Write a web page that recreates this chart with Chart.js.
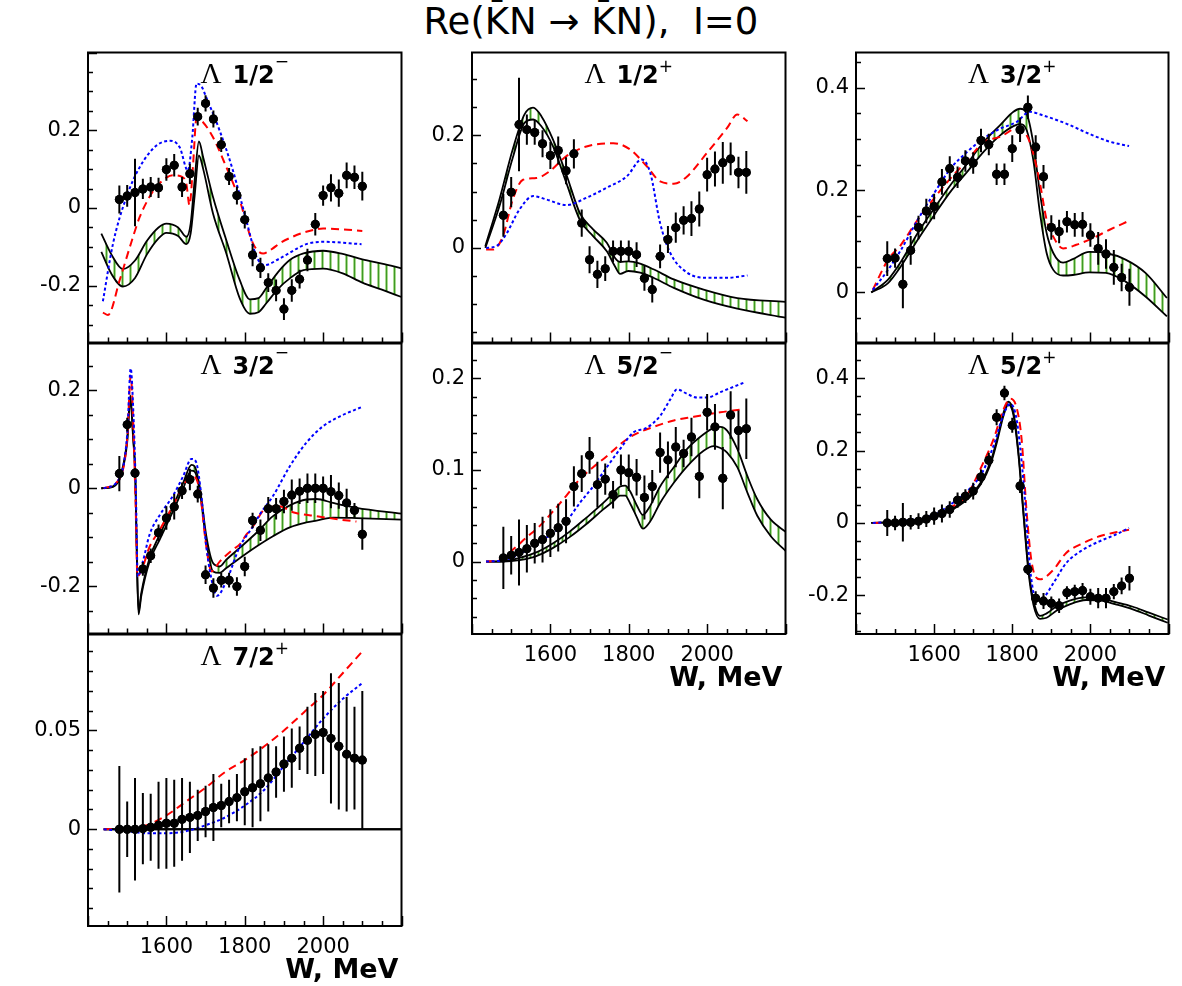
<!DOCTYPE html>
<html>
<head>
<meta charset="utf-8">
<script src="https://cdn.jsdelivr.net/npm/chart.js@4.4.0/dist/chart.umd.min.js"></script>
<style>
  body { margin: 0; background: #fff; width: 1182px; height: 986px; position: relative; overflow: hidden; }
  #title { position: absolute; left: 0; top: 2px; width: 1182px; text-align: center; font: 37px "DejaVu Sans"; line-height: 40px; white-space: pre; color: #000; }
  canvas { position: absolute; }
</style>
</head>
<body>
<div id="title">Re(K̄N → K̄N),  I=0</div>
<script>
// energies of the data points, MeV
const ptsW = [1480, 1500, 1520, 1540, 1560, 1580, 1600, 1620, 1640, 1660, 1680, 1700, 1720, 1740, 1760, 1780,
  1800, 1820, 1840, 1860, 1880, 1900, 1920, 1940, 1960, 1980, 2000, 2020, 2040, 2060, 2080, 2100];
const xTicks = [1600, 1800, 2000];

// Lambda 1/2-
const s01Val = [0.022, 0.031, 0.040, 0.049, 0.054, 0.052, 0.099, 0.110, 0.054, 0.088, 0.235, 0.269, 0.229, 0.163, 0.081, 0.032,
  -0.030, -0.121, -0.154, -0.192, -0.212, -0.260, -0.212, -0.183, -0.134, -0.042, 0.032, 0.052, 0.038, 0.084, 0.079, 0.056];
const s01Err = [0.036, 0.028, 0.087, 0.026, 0.026, 0.026, 0.029, 0.029, 0.026, 0.026, 0.023, 0.021, 0.022, 0.019, 0.022, 0.023,
  0.023, 0.029, 0.026, 0.024, 0.028, 0.028, 0.029, 0.024, 0.029, 0.029, 0.026, 0.035, 0.035, 0.033, 0.030, 0.037];
const s01BandW = [1434, 1460, 1489, 1520, 1550, 1580, 1600, 1630, 1651, 1662, 1672, 1683, 1694, 1719, 1753, 1787, 1813, 1835, 1855, 1885, 1915, 1950, 2000, 2050, 2100, 2150, 2200];
const s01Hi = [-0.066, -0.120, -0.157, -0.135, -0.085, -0.050, -0.040, -0.050, -0.074, -0.040, 0.070, 0.171, 0.130, 0.028, -0.083, -0.185, -0.235, -0.232, -0.206, -0.165, -0.134, -0.117, -0.110, -0.118, -0.132, -0.143, -0.155];
const s01Lo = [-0.113, -0.170, -0.202, -0.180, -0.120, -0.078, -0.064, -0.072, -0.093, -0.065, 0.030, 0.135, 0.100, -0.014, -0.117, -0.232, -0.272, -0.268, -0.245, -0.208, -0.181, -0.160, -0.156, -0.168, -0.192, -0.210, -0.229];
const s01RedW = [1438, 1451, 1481, 1510, 1532, 1555, 1574, 1600, 1617, 1640, 1651, 1659, 1668, 1677, 1694, 1719, 1753, 1787, 1821, 1847, 1870, 1889, 1920, 1957, 2000, 2050, 2100];
const s01Red = [-0.269, -0.275, -0.185, -0.090, -0.023, 0.025, 0.054, 0.078, 0.084, 0.080, 0.062, 0.007, 0.110, 0.232, 0.220, 0.182, 0.105, 0.020, -0.091, -0.117, -0.105, -0.091, -0.075, -0.061, -0.053, -0.055, -0.059];
const s01BlueW = [1438, 1464, 1498, 1532, 1574, 1609, 1634, 1655, 1666, 1677, 1689, 1702, 1736, 1770, 1804, 1830, 1851, 1889, 1957, 2000, 2098];
const s01Blue = [-0.240, -0.091, 0.028, 0.105, 0.160, 0.173, 0.156, 0.096, 0.180, 0.320, 0.314, 0.284, 0.199, 0.096, -0.032, -0.125, -0.147, -0.130, -0.093, -0.087, -0.093];
const s01YTicks = [-0.2, 0, 0.2];

// Lambda 1/2+
const p01Val = [0.058, 0.099, 0.219, 0.210, 0.205, 0.185, 0.164, 0.173, 0.137, 0.167, 0.044, -0.021, -0.047, -0.037, -0.006, -0.006,
  -0.006, -0.012, -0.054, -0.074, -0.015, 0.015, 0.036, 0.049, 0.052, 0.069, 0.130, 0.140, 0.151, 0.158, 0.134, 0.134];
const p01Err = [0.038, 0.027, 0.083, 0.027, 0.022, 0.024, 0.024, 0.025, 0.024, 0.026, 0.024, 0.024, 0.024, 0.022, 0.019, 0.019,
  0.019, 0.022, 0.022, 0.023, 0.021, 0.024, 0.027, 0.025, 0.031, 0.031, 0.030, 0.031, 0.037, 0.029, 0.028, 0.038];
const p01BandW = [1434, 1470, 1504, 1534, 1556, 1577, 1607, 1641, 1675, 1709, 1744, 1765, 1778, 1799, 1829, 1863, 1915, 1991, 2077, 2200];
const p01Hi = [0.003, 0.086, 0.175, 0.237, 0.249, 0.234, 0.192, 0.130, 0.062, 0.033, 0.009, -0.018, -0.025, -0.024, -0.028, -0.038, -0.056, -0.074, -0.089, -0.096];
const p01Lo = [0.000, 0.074, 0.160, 0.222, 0.228, 0.216, 0.180, 0.115, 0.050, 0.021, -0.006, -0.033, -0.046, -0.041, -0.044, -0.053, -0.071, -0.092, -0.108, -0.124];
const p01RedW = [1436, 1453, 1479, 1504, 1530, 1564, 1598, 1641, 1692, 1761, 1803, 1846, 1880, 1915, 1949, 2000, 2051, 2077, 2103];
const p01Red = [-0.003, -0.003, 0.021, 0.086, 0.121, 0.124, 0.136, 0.163, 0.180, 0.186, 0.175, 0.145, 0.118, 0.114, 0.127, 0.169, 0.213, 0.237, 0.225];
const p01BlueW = [1436, 1462, 1487, 1521, 1556, 1590, 1641, 1692, 1744, 1795, 1833, 1855, 1880, 1906, 1949, 2000, 2051, 2103];
const p01Blue = [0.000, 0.003, 0.024, 0.068, 0.092, 0.086, 0.076, 0.089, 0.107, 0.127, 0.157, 0.133, 0.044, -0.009, -0.044, -0.053, -0.053, -0.049];
const p01YTicks = [0, 0.2];

// Lambda 3/2+
const p03Val = [0.066, 0.067, 0.016, 0.082, 0.127, 0.159, 0.168, 0.216, 0.242, 0.225, 0.257, 0.253, 0.297, 0.289, 0.231, 0.231,
  0.281, 0.318, 0.362, 0.284, 0.226, 0.127, 0.119, 0.138, 0.132, 0.133, 0.112, 0.086, 0.075, 0.049, 0.029, 0.010];
const p03Err = [0.034, 0.019, 0.047, 0.028, 0.023, 0.024, 0.025, 0.025, 0.024, 0.021, 0.021, 0.021, 0.023, 0.021, 0.021, 0.021,
  0.026, 0.024, 0.023, 0.023, 0.023, 0.024, 0.023, 0.021, 0.023, 0.024, 0.023, 0.032, 0.029, 0.034, 0.027, 0.036];
const p03BandW = [1439, 1482, 1515, 1558, 1600, 1642, 1685, 1727, 1769, 1803, 1820, 1837, 1854, 1871, 1888, 1905, 1930, 1955, 1997, 2040, 2090, 2141, 2196];
const p03Hi = [0, 0.025, 0.060, 0.116, 0.164, 0.210, 0.252, 0.294, 0.327, 0.353, 0.359, 0.349, 0.291, 0.194, 0.116, 0.077, 0.058, 0.065, 0.079, 0.077, 0.064, 0.038, -0.011];
const p03Lo = [0, 0.018, 0.051, 0.103, 0.151, 0.197, 0.236, 0.275, 0.307, 0.325, 0.329, 0.317, 0.258, 0.155, 0.077, 0.044, 0.033, 0.034, 0.039, 0.038, 0.021, -0.008, -0.047];
const p03RedW = [1443, 1482, 1515, 1558, 1600, 1642, 1685, 1727, 1769, 1811, 1837, 1854, 1871, 1888, 1905, 1930, 1964, 2006, 2048, 2099];
const p03Red = [0.005, 0.064, 0.093, 0.142, 0.184, 0.223, 0.258, 0.294, 0.304, 0.320, 0.307, 0.271, 0.213, 0.142, 0.109, 0.086, 0.093, 0.106, 0.122, 0.140];
const p03BlueW = [1443, 1482, 1515, 1558, 1600, 1642, 1685, 1727, 1769, 1811, 1845, 1879, 1938, 1997, 2048, 2099];
const p03Blue = [0.005, 0.044, 0.083, 0.142, 0.194, 0.242, 0.275, 0.301, 0.320, 0.333, 0.353, 0.346, 0.330, 0.310, 0.295, 0.286];
const p03YTicks = [0, 0.2, 0.4];

// Lambda 3/2-
const d03Val = [0.030, 0.130, 0.031, -0.165, -0.138, -0.091, -0.061, -0.038, -0.005, 0.018, -0.012, -0.177, -0.204, -0.188, -0.188, -0.201,
  -0.160, -0.066, -0.086, -0.042, -0.042, -0.027, -0.014, -0.006, 0.000, 0.000, 0.000, -0.007, -0.015, -0.030, -0.045, -0.094];
const d03Err = [0.036, 0.014, 0.010, 0.014, 0.015, 0.017, 0.024, 0.026, 0.017, 0.022, 0.017, 0.019, 0.020, 0.015, 0.015, 0.019,
  0.020, 0.016, 0.022, 0.024, 0.022, 0.024, 0.032, 0.026, 0.030, 0.030, 0.024, 0.034, 0.027, 0.029, 0.015, 0.032];
const d03BandW = [1434, 1464, 1485, 1500, 1508, 1515, 1521, 1525, 1529, 1536, 1557, 1583, 1617, 1643, 1664, 1672, 1685, 1702, 1719, 1736, 1753, 1787, 1830, 1872, 1915, 1957, 1983, 2025, 2085, 2200];
const d03Hi = [0, 0.004, 0.031, 0.100, 0.190, 0.110, 0.020, -0.150, -0.252, -0.214, -0.143, -0.095, -0.037, 0.011, 0.048, 0.045, 0.004, -0.098, -0.153, -0.160, -0.146, -0.122, -0.091, -0.057, -0.035, -0.023, -0.022, -0.030, -0.040, -0.052];
const d03Lo = [0, 0.003, 0.028, 0.094, 0.182, 0.104, 0.014, -0.158, -0.258, -0.220, -0.150, -0.105, -0.047, 0.000, 0.036, 0.034, -0.005, -0.110, -0.170, -0.173, -0.163, -0.143, -0.119, -0.098, -0.080, -0.070, -0.066, -0.060, -0.061, -0.064];
const d03RedW = [1440, 1480, 1500, 1509, 1516, 1522, 1526, 1540, 1557, 1583, 1617, 1651, 1668, 1685, 1702, 1715, 1736, 1770, 1787, 1804, 1821, 1855, 1889, 1923, 1983, 2043, 2085];
const d03Red = [0, 0.020, 0.100, 0.230, 0.120, -0.050, -0.180, -0.160, -0.120, -0.085, -0.035, 0.015, 0.025, -0.005, -0.120, -0.170, -0.150, -0.125, -0.115, -0.095, -0.078, -0.040, -0.037, -0.049, -0.057, -0.064, -0.068];
const d03BlueW = [1440, 1480, 1500, 1509, 1516, 1522, 1527, 1540, 1557, 1583, 1617, 1643, 1664, 1675, 1690, 1702, 1719, 1729, 1753, 1787, 1821, 1838, 1872, 1915, 1957, 2000, 2043, 2098];
const d03Blue = [0, 0.020, 0.110, 0.245, 0.150, 0.000, -0.180, -0.150, -0.095, -0.055, -0.015, 0.025, 0.060, 0.055, -0.020, -0.120, -0.200, -0.220, -0.190, -0.120, -0.078, -0.054, -0.016, 0.045, 0.093, 0.127, 0.147, 0.166];
const d03YTicks = [-0.2, 0, 0.2];

// Lambda 5/2-
const d05Val = [0.004, 0.007, 0.010, 0.014, 0.020, 0.024, 0.031, 0.037, 0.044, 0.082, 0.096, 0.116, 0.084, 0.090, 0.073, 0.100,
  0.097, 0.092, 0.070, 0.082, 0.119, 0.111, 0.125, 0.118, 0.136, 0.093, 0.163, 0.147, 0.091, 0.160, 0.143, 0.145];
const d05Err = [0.034, 0.021, 0.036, 0.026, 0.022, 0.025, 0.026, 0.026, 0.024, 0.022, 0.020, 0.020, 0.025, 0.017, 0.015, 0.017,
  0.020, 0.020, 0.024, 0.018, 0.022, 0.020, 0.022, 0.015, 0.021, 0.024, 0.020, 0.025, 0.034, 0.026, 0.022, 0.033];
const d05BandW = [1436, 1479, 1521, 1564, 1607, 1650, 1692, 1735, 1761, 1778, 1791, 1803, 1821, 1836, 1855, 1880, 1915, 1949, 1991, 2017, 2034, 2051, 2077, 2103, 2128, 2162, 2202];
const d05Hi = [0, 0.0004, 0.004, 0.010, 0.020, 0.033, 0.048, 0.064, 0.075, 0.082, 0.083, 0.077, 0.061, 0.051, 0.061, 0.082, 0.103, 0.123, 0.139, 0.146, 0.147, 0.143, 0.123, 0.093, 0.068, 0.046, 0.032];
const d05Lo = [0, 0, 0.0015, 0.006, 0.015, 0.027, 0.041, 0.057, 0.066, 0.072, 0.072, 0.064, 0.048, 0.036, 0.044, 0.064, 0.086, 0.104, 0.121, 0.126, 0.124, 0.119, 0.103, 0.075, 0.050, 0.028, 0.011];
const d05RedW = [1436, 1470, 1504, 1538, 1573, 1607, 1641, 1675, 1709, 1744, 1778, 1812, 1863, 1915, 1966, 2034, 2090];
const d05Red = [0, 0.002, 0.013, 0.026, 0.039, 0.055, 0.072, 0.090, 0.103, 0.115, 0.128, 0.138, 0.147, 0.154, 0.158, 0.163, 0.166];
const d05BlueW = [1436, 1479, 1521, 1564, 1607, 1641, 1675, 1709, 1744, 1778, 1812, 1846, 1880, 1906, 1923, 1949, 1974, 2000, 2034, 2098];
const d05Blue = [0, 0.0015, 0.008, 0.020, 0.031, 0.044, 0.064, 0.082, 0.103, 0.123, 0.141, 0.146, 0.159, 0.177, 0.188, 0.183, 0.179, 0.179, 0.185, 0.196];
const d05YTicks = [0, 0.1, 0.2];

// Lambda 5/2+
const f05Val = [0, 0, 0.002, 0.002, 0.005, 0.011, 0.019, 0.026, 0.037, 0.063, 0.074, 0.088, 0.127, 0.173, 0.292, 0.359,
  0.270, 0.102, -0.128, -0.208, -0.216, -0.222, -0.229, -0.193, -0.190, -0.187, -0.204, -0.208, -0.208, -0.190, -0.174, -0.153];
const f05Err = [0.036, 0.020, 0.053, 0.020, 0.022, 0.022, 0.024, 0.025, 0.023, 0.021, 0.019, 0.023, 0.021, 0.021, 0.022, 0.020,
  0.021, 0.019, 0.016, 0.019, 0.022, 0.019, 0.020, 0.018, 0.019, 0.021, 0.022, 0.028, 0.028, 0.021, 0.023, 0.034];
const f05BandW = [1439, 1515, 1600, 1642, 1685, 1719, 1744, 1761, 1778, 1790, 1803, 1816, 1829, 1841, 1854, 1871, 1888, 1913, 1947, 1989, 2023, 2065, 2107, 2150, 2198];
const f05Hi = [0, 0.004, 0.019, 0.037, 0.069, 0.111, 0.167, 0.231, 0.306, 0.335, 0.306, 0.194, 0.028, -0.120, -0.213, -0.257, -0.250, -0.231, -0.215, -0.206, -0.208, -0.219, -0.231, -0.248, -0.267];
const f05Lo = [0, 0.003, 0.017, 0.034, 0.065, 0.106, 0.161, 0.224, 0.298, 0.327, 0.298, 0.186, 0.018, -0.130, -0.225, -0.265, -0.262, -0.243, -0.225, -0.213, -0.214, -0.225, -0.238, -0.256, -0.276];
const f05RedW = [1443, 1515, 1600, 1642, 1685, 1723, 1752, 1778, 1795, 1811, 1824, 1837, 1850, 1871, 1905, 1938, 1981, 2023, 2065, 2099];
const f05Red = [0, 0.002, 0.019, 0.042, 0.079, 0.160, 0.231, 0.315, 0.343, 0.319, 0.231, 0.028, -0.111, -0.156, -0.130, -0.083, -0.056, -0.037, -0.026, -0.019];
const f05BlueW = [1443, 1515, 1600, 1642, 1685, 1723, 1752, 1778, 1795, 1811, 1829, 1846, 1862, 1879, 1905, 1938, 1981, 2023, 2065, 2099];
const f05Blue = [0, 0.005, 0.023, 0.051, 0.088, 0.139, 0.213, 0.301, 0.329, 0.287, 0.111, -0.130, -0.213, -0.208, -0.167, -0.111, -0.074, -0.051, -0.032, -0.014];
const f05YTicks = [-0.2, 0, 0.2, 0.4];

// Lambda 7/2+
const f07Val = [0, 0, 0, 0.0003, 0.001, 0.002, 0.003, 0.003, 0.005, 0.006, 0.007, 0.009, 0.011, 0.012, 0.014, 0.016,
  0.019, 0.021, 0.023, 0.026, 0.029, 0.033, 0.036, 0.041, 0.045, 0.048, 0.049, 0.046, 0.042, 0.038, 0.036, 0.035];
const f07Err = [0.032, 0.014, 0.026, 0.018, 0.017, 0.022, 0.023, 0.022, 0.021, 0.018, 0.013, 0.013, 0.017, 0.011, 0.011, 0.012,
  0.017, 0.020, 0.019, 0.017, 0.013, 0.014, 0.015, 0.011, 0.017, 0.021, 0.021, 0.033, 0.032, 0.029, 0.026, 0.035];
const f07BandW = [1440, 2200];
const f07Hi = [0, 0];
const f07Lo = [0, 0];
const f07RedW = [1440, 1500, 1550, 1600, 1650, 1700, 1750, 1800, 1850, 1900, 1950, 2000, 2050, 2100];
const f07Red = [0, 0.0005, 0.002, 0.007, 0.014, 0.021, 0.029, 0.035, 0.042, 0.050, 0.059, 0.068, 0.079, 0.090];
const f07BlueW = [1440, 1500, 1550, 1600, 1650, 1700, 1750, 1800, 1850, 1900, 1950, 2000, 2050, 2100];
const f07Blue = [0, -0.001, -0.002, -0.002, -0.001, 0.002, 0.006, 0.012, 0.020, 0.032, 0.044, 0.056, 0.066, 0.074];
const f07YTicks = [0, 0.05];

// plot boxes on the page: [left, top, right, bottom]
const panels = [
  { frac: "1/2", sign: "−", box: [88, 52, 402, 343], y: [-0.346, 0.400], major: 0.2, minor: 0.05, yTicks: s01YTicks, xLab: false,
    val: s01Val, err: s01Err, bandW: s01BandW, hi: s01Hi, lo: s01Lo, redW: s01RedW, red: s01Red, blueW: s01BlueW, blue: s01Blue },
  { frac: "1/2", sign: "+", box: [472, 52, 786, 343], y: [-0.168, 0.347], major: 0.2, minor: 0.05, yTicks: p01YTicks, xLab: false,
    val: p01Val, err: p01Err, bandW: p01BandW, hi: p01Hi, lo: p01Lo, redW: p01RedW, red: p01Red, blueW: p01BlueW, blue: p01Blue },
  { frac: "3/2", sign: "+", box: [856, 52, 1169, 343], y: [-0.098, 0.469], major: 0.2, minor: 0.05, yTicks: p03YTicks, xLab: false,
    val: p03Val, err: p03Err, bandW: p03BandW, hi: p03Hi, lo: p03Lo, redW: p03RedW, red: p03Red, blueW: p03BlueW, blue: p03Blue },
  { frac: "3/2", sign: "−", box: [88, 343, 402, 634], y: [-0.297, 0.296], major: 0.2, minor: 0.05, yTicks: d03YTicks, xLab: false,
    val: d03Val, err: d03Err, bandW: d03BandW, hi: d03Hi, lo: d03Lo, redW: d03RedW, red: d03Red, blueW: d03BlueW, blue: d03Blue },
  { frac: "5/2", sign: "−", box: [472, 343, 786, 634], y: [-0.079, 0.238], major: 0.1, minor: 0.02, yTicks: d05YTicks, xLab: true,
    val: d05Val, err: d05Err, bandW: d05BandW, hi: d05Hi, lo: d05Lo, redW: d05RedW, red: d05Red, blueW: d05BlueW, blue: d05Blue },
  { frac: "5/2", sign: "+", box: [856, 343, 1169, 634], y: [-0.307, 0.496], major: 0.2, minor: 0.05, yTicks: f05YTicks, xLab: true,
    val: f05Val, err: f05Err, bandW: f05BandW, hi: f05Hi, lo: f05Lo, redW: f05RedW, red: f05Red, blueW: f05BlueW, blue: f05Blue },
  { frac: "7/2", sign: "+", box: [88, 634, 402, 926], y: [-0.049, 0.0986], major: 0.05, minor: 0.01, yTicks: f07YTicks, xLab: true,
    val: f07Val, err: f07Err, bandW: f07BandW, hi: f07Hi, lo: f07Lo, redW: f07RedW, red: f07Red, blueW: f07BlueW, blue: f07Blue },
];

const AXIS_W = 90;
const XLAB_H = 62;

function xy(ws, vs) {
  return ws.map((w, i) => ({ x: w, y: vs[i] }));
}

function tickList(min, max, step) {
  const out = [];
  for (let k = Math.ceil(min / step - 1e-6); k * step <= max + 1e-9; k++) out.push(k * step);
  return out;
}

function isMajor(v, major) {
  const r = v / major;
  return Math.abs(r - Math.round(r)) < 1e-6;
}

function hatchPattern(ctx) {
  const c = document.createElement("canvas");
  c.width = 8;
  c.height = 8;
  const g = c.getContext("2d");
  g.fillStyle = "#a9d98f";
  g.fillRect(3, 0, 3, 8);
  g.fillStyle = "#3f9a26";
  g.fillRect(4, 0, 1, 8);
  return ctx.createPattern(c, "repeat");
}

const panelPlugin = {
  id: "panel",
  afterDatasetsDraw(chart) {
    const p = chart.options.plugins.panel.cfg;
    const { ctx, chartArea: a, scales: { x, y } } = chart;
    ctx.save();
    ctx.beginPath();
    ctx.rect(a.left, a.top, a.right - a.left, a.bottom - a.top);
    ctx.clip();
    // error bars
    ctx.strokeStyle = "#000";
    ctx.lineWidth = 2;
    ctx.beginPath();
    p.val.forEach((v, i) => {
      const px = x.getPixelForValue(ptsW[i]);
      ctx.moveTo(px, y.getPixelForValue(v + p.err[i]));
      ctx.lineTo(px, y.getPixelForValue(v - p.err[i]));
    });
    ctx.stroke();
    chart.getDatasetMeta(0).data.forEach((pt) => pt.draw(ctx, a));
    ctx.restore();
  },
  afterDraw(chart) {
    const p = chart.options.plugins.panel.cfg;
    const { ctx, chartArea: a, scales: { x, y } } = chart;
    ctx.save();
    // frame
    ctx.strokeStyle = "#000";
    ctx.lineWidth = 2;
    ctx.strokeRect(a.left, a.top, a.right - a.left, a.bottom - a.top);
    // inward ticks
    ctx.lineWidth = 1.5;
    ctx.beginPath();
    tickList(1400, 2200, 50).forEach((w) => {
      const px = Math.round(x.getPixelForValue(w)) + 0.5;
      const len = isMajor(w, 200) ? 10 : 5;
      ctx.moveTo(px, a.bottom);
      ctx.lineTo(px, a.bottom - len);
    });
    tickList(p.y[0], p.y[1], p.minor).forEach((v) => {
      const py = Math.round(y.getPixelForValue(v)) + 0.5;
      const len = isMajor(v, p.major) ? 9 : 5;
      ctx.moveTo(a.left, py);
      ctx.lineTo(a.left + len, py);
    });
    ctx.stroke();

    // panel title: Lambda J^P
    ctx.fillStyle = "#000";
    ctx.textBaseline = "alphabetic";
    ctx.textAlign = "left";
    const base = a.top + 30;
    ctx.font = '29px "Liberation Serif"';
    const wL = ctx.measureText("Λ").width;
    ctx.font = 'bold 24px "DejaVu Sans"';
    const wF = ctx.measureText(p.frac).width;
    ctx.font = '17px "DejaVu Sans"';
    const wS = ctx.measureText(p.sign).width;
    const gap = 11;
    let x0 = (a.left + a.right) / 2 - (wL + gap + wF + wS) / 2;
    ctx.font = '29px "Liberation Serif"';
    ctx.fillText("Λ", x0, base);
    x0 += wL + gap;
    ctx.font = 'bold 24px "DejaVu Sans"';
    ctx.fillText(p.frac, x0, base);
    x0 += wF;
    ctx.font = '17px "DejaVu Sans"';
    ctx.fillText(p.sign, x0, base - (p.sign === "+" ? 11 : 16));

    if (p.xLab) {
      ctx.font = 'bold 27px "DejaVu Sans"';
      ctx.textAlign = "right";
      ctx.fillText("W, MeV", a.right - 3, a.bottom + 52);
    }
    ctx.restore();
  },
};

function fmt(v) {
  return String(Number(v.toFixed(3)));
}

panels.forEach((p) => {
  const [l, t, r, b] = p.box;
  const cv = document.createElement("canvas");
  cv.width = r - l + AXIS_W + 4;
  cv.height = b - t + 4 + (p.xLab ? XLAB_H : 4);
  cv.style.left = l - AXIS_W + "px";
  cv.style.top = t - 4 + "px";
  document.body.appendChild(cv);
  const ctx = cv.getContext("2d");
  const curve = { pointRadius: 0, pointHoverRadius: 0, fill: false, cubicInterpolationMode: "monotone" };

  new Chart(ctx, {
    type: "line",
    data: {
      datasets: [
        { data: xy(ptsW, p.val), showLine: false, pointRadius: 4.5, pointHoverRadius: 4.5,
          pointBackgroundColor: "#000", pointBorderWidth: 0, borderColor: "#000" },
        { ...curve, data: xy(p.blueW, p.blue), borderColor: "#0000ff", borderWidth: 2, borderDash: [3, 2.5] },
        { ...curve, data: xy(p.redW, p.red), borderColor: "#ff0000", borderWidth: 2, borderDash: [8, 5] },
        { ...curve, data: xy(p.bandW, p.hi), borderColor: "#000", borderWidth: 1.8 },
        { ...curve, data: xy(p.bandW, p.lo), borderColor: "#000", borderWidth: 1.8,
          fill: "-1", backgroundColor: hatchPattern(ctx) },
      ],
    },
    options: {
      responsive: false,
      animation: false,
      events: [],
      layout: { padding: { left: 0, top: 4, right: 4, bottom: p.xLab ? 0 : 4 } },
      plugins: {
        legend: { display: false },
        tooltip: { enabled: false },
        panel: { cfg: p },
      },
      scales: {
        x: {
          type: "linear",
          min: 1400,
          max: 2200,
          grid: { display: false, drawTicks: false },
          border: { display: false },
          ticks: { display: p.xLab, padding: 9, color: "#000", font: { family: "DejaVu Sans", size: 21 },
            callback: (v) => String(v) },
          afterBuildTicks: (s) => { s.ticks = xTicks.map((v) => ({ value: v })); },
          afterFit: (s) => { s.height = p.xLab ? XLAB_H : 0; s.paddingLeft = 0; s.paddingRight = 0; },
        },
        y: {
          type: "linear",
          min: p.y[0],
          max: p.y[1],
          grid: { display: false, drawTicks: false },
          border: { display: false },
          ticks: { padding: 7, color: "#000", font: { family: "DejaVu Sans", size: 21 }, callback: (v) => fmt(v) },
          afterBuildTicks: (s) => { s.ticks = p.yTicks.map((v) => ({ value: v })); },
          afterFit: (s) => { s.width = AXIS_W; s.paddingTop = 0; s.paddingBottom = 0; },
        },
      },
    },
    plugins: [panelPlugin],
  });
});
</script>
</body>
</html>
